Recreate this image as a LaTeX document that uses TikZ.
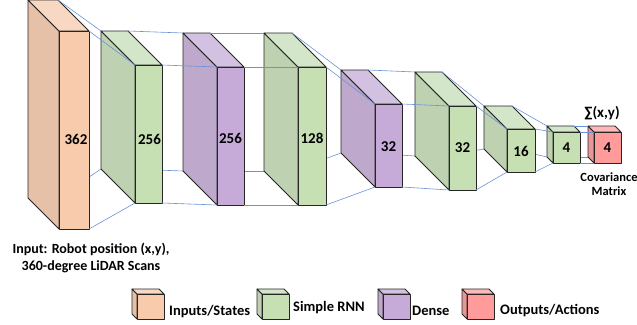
\documentclass[tikz,border=0pt]{standalone}
\usepackage{fontspec}
\setmainfont{Carlito}
\usetikzlibrary{calc}

% face colours of the layer slabs
\definecolor{inpfront}{HTML}{F8CBAD}
\definecolor{inpside}{HTML}{E6C1A8}
\definecolor{inptop}{HTML}{F9D8C3}
\definecolor{rnnfront}{HTML}{C6E0B4}
\definecolor{rnnside}{HTML}{BED2B1}
\definecolor{rnntop}{HTML}{D4E6C9}
\definecolor{dnsfront}{HTML}{C6ABD9}
\definecolor{dnsside}{HTML}{BEA8CC}
\definecolor{dnstop}{HTML}{D3C1E2}
\definecolor{outfront}{HTML}{FF9B9B}
\definecolor{outside}{HTML}{E89696}
\definecolor{outtop}{HTML}{FFB8B8}
\definecolor{edgegray}{HTML}{262626}
\definecolor{linkblue}{HTML}{6A92D6}

\pgfdeclarelayer{background}
\pgfsetlayers{background,main}

\tikzset{
  edge/.style={draw=edgegray, line width=0.8pt, line join=round},
  link/.style={draw=linkblue, line width=0.6pt},
  num/.style={font=\bfseries\fontsize{15}{18}\selectfont, inner sep=0pt},
  caption/.style={font=\bfseries\fontsize{14}{17}\selectfont, inner sep=0pt, align=center},
  smallcap/.style={font=\bfseries\fontsize{12.5}{14}\selectfont, inner sep=0pt, align=center},
  legendtext/.style={font=\bfseries\fontsize{14.5}{18}\selectfont, inner sep=0pt, anchor=base west},
}

% \slab{name}{left}{top}{width}{height}{depth}{palette}
% front face is the node <name>; corners are named <name>-ftl, -ftr, -fbl, -fbr (front)
% and <name>-btl, -btr, -bbl, -bbr (back, shifted up and left by depth)
\newcommand{\slab}[7]{%
  \coordinate (#1-ftl) at (#2,#3);
  \coordinate (#1-ftr) at (#2+#4,#3);
  \coordinate (#1-fbl) at (#2,#3+#5);
  \coordinate (#1-fbr) at (#2+#4,#3+#5);
  \coordinate (#1-btl) at (#2-#6,#3-#6);
  \coordinate (#1-btr) at (#2+#4-#6,#3-#6);
  \coordinate (#1-bbl) at (#2-#6,#3+#5-#6);
  \coordinate (#1-bbr) at (#2+#4-#6,#3+#5-#6);
  \filldraw[edge, fill=#7side] (#1-ftl) -- (#1-btl) -- (#1-bbl) -- (#1-fbl) -- cycle;
  \filldraw[edge, fill=#7top] (#1-ftl) -- (#1-btl) -- (#1-btr) -- (#1-ftr) -- cycle;
  \node[edge, fill=#7front, inner sep=0pt, outer sep=0pt, anchor=north west,
        minimum width=#4pt, minimum height=#5pt] (#1) at (#1-ftl) {};
}

\begin{document}
\begin{tikzpicture}[x=1pt, y=-1pt]
\useasboundingbox (0,0) rectangle (637,324);

% network layers
\slab{b1}{59}{31}{30}{198}{31}{inp}
\slab{b2}{135}{65}{27}{138}{34}{rnn}
\slab{b3}{217}{67}{27}{138}{34}{dns}
\slab{b4}{298}{67}{28}{138}{34}{rnn}
\slab{b5}{375}{104}{27}{83}{34}{dns}
\slab{b6}{449}{106}{27}{84}{34}{rnn}
\slab{b7}{507}{129}{28}{43}{23}{rnn}
\slab{b8}{553}{132}{27}{31}{6}{rnn}
\slab{b9}{594}{132}{27}{31}{6}{out}

% unit counts
\node[num] (n1) at ($(b1.center)+(2,9)$) {362};
\node[num] (n2) at ($(b2.center)+(1,5)$) {256};
\node[num] (n3) at ($(b3.center)+(0,2)$) {256};
\node[num] (n4) at ($(b4.center)+(0,2)$) {128};
\node[num] (n5) at ($(b5.center)+(0,1)$) {32};
\node[num] (n6) at (b6.center) {32};
\node[num] (n7) at ($(b7.center)+(0,1)$) {16};
\node[num] (n8) at (b8.center) {4};
\node[num] (n9) at (b9.center) {4};

% connectors between consecutive layers
\foreach \a/\b in {b1/b2,b2/b3,b3/b4,b4/b5,b5/b6,b6/b7,b7/b8,b8/b9}{
  \draw[link] (\a-ftr) -- (\b-ftl);
  \draw[link] (\a-btr) -- (\b-btl);
  \draw[link] (\a-fbr) -- (\b-fbl);
}
\begin{pgfonlayer}{background}
\foreach \a/\b in {b1/b2,b2/b3,b3/b4,b4/b5,b5/b6,b6/b7,b7/b8,b8/b9}{
  \draw[link] (\a-bbr) -- (\b-bbl);
}
\end{pgfonlayer}

% annotations
\node[caption] (inlabel) at (91,258) {Input: Robot position (x,y),\\360-degree LiDAR Scans};
\node[num, anchor=base] (sigma) at (602,117) {∑(x,y)};
\node[smallcap] (covlabel) at (609,184) {Covariance\\Matrix};

% legend
\slab{k1}{137}{294}{27}{25}{5}{inp}
\slab{k2}{262}{294}{27}{25}{5}{rnn}
\slab{k3}{383}{294}{27}{25}{5}{dns}
\slab{k4}{467}{294}{27}{25}{5}{out}
\node[legendtext] (t1) at (169,315) {Inputs/States};
\node[legendtext] (t2) at (293,311) {Simple RNN};
\node[legendtext] (t3) at (412,315) {Dense};
\node[legendtext] (t4) at (500,314) {Outputs/Actions};
\end{tikzpicture}
\end{document}
